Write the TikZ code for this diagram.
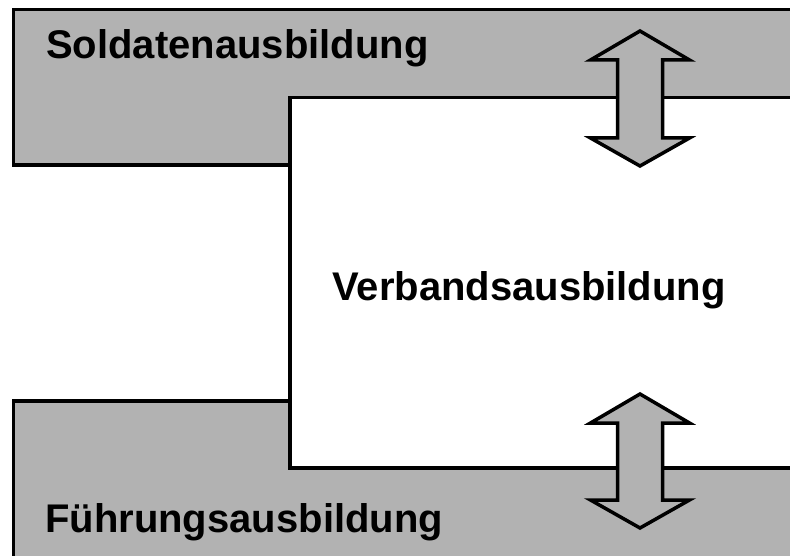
\documentclass[tikz,border=0pt]{standalone}
\usepackage{fontspec}
\setmainfont{Liberation Sans}
\usepackage{tikz}

\definecolor{bandgray}{RGB}{178,178,178}

\tikzset{
  band/.style={draw=black, fill=bandgray, line width=3.5pt},
  panel/.style={draw=black, fill=white, line width=3.5pt},
  arrowshape/.style={draw=black, fill=bandgray, line width=3.5pt, line join=miter},
  title/.style={inner sep=0pt, font=\fontsize{40}{47}\selectfont\bfseries}
}

\begin{document}
\begin{tikzpicture}[x=1pt,y=-1pt]
\useasboundingbox (0,0) rectangle (790,556);
\clip (0,0) rectangle (790,556);
% the two grey bands and the white panel on top of them
\draw [band] (13.5,9.5) rectangle (810,165);
\draw [band] (13.5,401) rectangle (810,580);
\draw [panel] (290,97.5) rectangle (810,468);
% labels
\node [title, anchor=base west] (soldat) at (46,59) {Soldatenausbildung};
\node [title, anchor=base] (verband) at (529,301) {Verbandsausbildung};
\node [title, anchor=base west] (fuehrung) at (45,532) {Führungsausbildung};
% up/down arrows between the levels
\foreach \yt/\yb in {31/166, 394/528} {
  \draw [arrowshape] (640,\yt) -- (689.5,\yt+29) -- (662.5,\yt+29)
    -- (662.5,\yb-28) -- (689.5,\yb-28) -- (640,\yb) -- (590.5,\yb-28)
    -- (617.5,\yb-28) -- (617.5,\yt+29) -- (590.5,\yt+29) -- cycle;
}
\end{tikzpicture}
\end{document}
